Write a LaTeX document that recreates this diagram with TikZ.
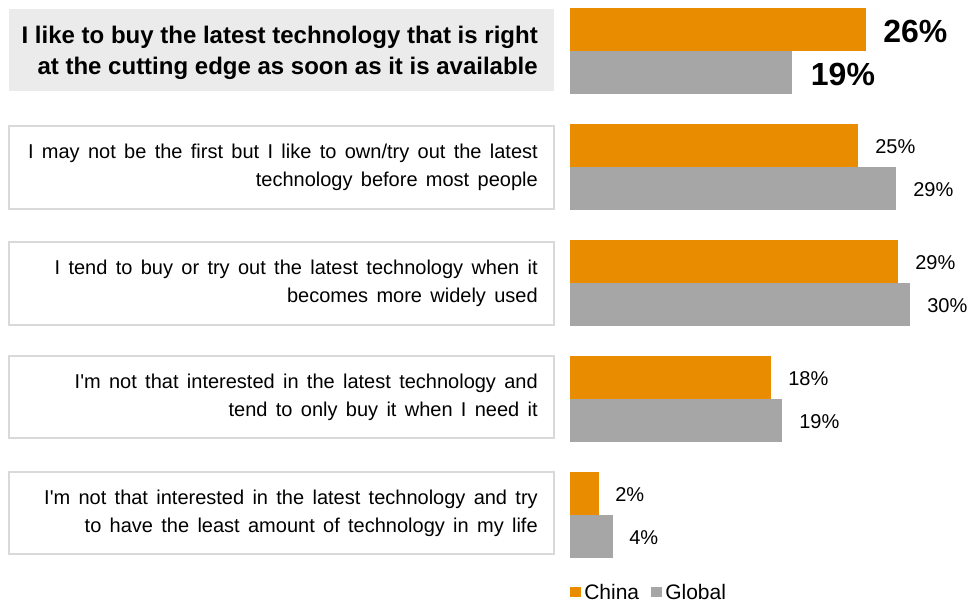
\documentclass[tikz,border=0pt]{standalone}
\usepackage{fontspec}
\setmainfont{Liberation Sans}
\newfontfamily\bodyfont[WordSpace=1.5]{Liberation Sans}
\usepackage{tikz}
\usetikzlibrary{positioning,calc}
\definecolor{china}{HTML}{EA8C00}
\definecolor{global}{HTML}{A6A6A6}
\definecolor{boxfill}{HTML}{EBEBEB}
\definecolor{boxline}{HTML}{D9D9D9}

\begin{document}
\begin{tikzpicture}[x=0.75pt,y=-0.75pt,
  chinabar/.style={fill=china},
  globalbar/.style={fill=global},
  answer/.style={draw=boxline,line width=1.5pt,fill=white},
  topanswer/.style={fill=boxfill},
  statement/.style={anchor=east,align=right,inner sep=0pt,font=\bodyfont\fontsize{15pt}{21pt}\selectfont},
  topstatement/.style={anchor=east,align=right,inner sep=0pt,font=\bfseries\fontsize{18pt}{23.5pt}\selectfont},
  pct/.style={inner sep=0pt,font=\fontsize{15pt}{18pt}\selectfont},
  toppct/.style={inner sep=0pt,font=\bfseries\fontsize{24pt}{28pt}\selectfont},
  legend/.style={anchor=west,inner sep=0pt,font=\fontsize{15.75pt}{18pt}\selectfont}]
\useasboundingbox (0,0) rectangle (969,602);

\fill[topanswer] (9,9) rectangle (554,91);
\node[topstatement] (s1) at (538,53) {I like to buy the latest technology that is right\\at the cutting edge as soon as it is available};
\draw[answer] (9,126) rectangle (554,209);
\node[statement] (s2) at (538,167.5) {I may not be the first but I like to own/try out the latest\\technology before most people};
\draw[answer] (9,242) rectangle (554,325);
\node[statement] (s3) at (538,283.5) {I tend to buy or try out the latest technology when it\\becomes more widely used};
\draw[answer] (9,356) rectangle (554,438);
\node[statement] (s4) at (538,397) {I'm not that interested in the latest technology and\\tend to only buy it when I need it};
\draw[answer] (9,472) rectangle (554,554);
\node[statement] (s5) at (538,513) {I'm not that interested in the latest technology and try\\to have the least amount of technology in my life};

\fill[chinabar] (570,8) rectangle (866,51);
\fill[globalbar] (570,51) rectangle (792,94);
\coordinate (c1) at (866,31);
\coordinate (g1) at (792,74);
\node[toppct, right=12.75pt of c1] (lc1) {26\%};
\node[toppct, right=14pt of g1] (lg1) {19\%};

\fill[chinabar] (570,124) rectangle (858,167);
\fill[globalbar] (570,167) rectangle (896,210);
\coordinate (c2) at (858,146.5);
\coordinate (g2) at (896,189.5);
\node[pct, right=12.75pt of c2] (lc2) {25\%};
\node[pct, right=12.75pt of g2] (lg2) {29\%};

\fill[chinabar] (570,240) rectangle (898,283);
\fill[globalbar] (570,283) rectangle (910,326);
\coordinate (c3) at (898,262.5);
\coordinate (g3) at (910,305.5);
\node[pct, right=12.75pt of c3] (lc3) {29\%};
\node[pct, right=12.75pt of g3] (lg3) {30\%};

\fill[chinabar] (570,356) rectangle (771,399);
\fill[globalbar] (570,399) rectangle (782,442);
\coordinate (c4) at (771,378.5);
\coordinate (g4) at (782,421.5);
\node[pct, right=12.75pt of c4] (lc4) {18\%};
\node[pct, right=12.75pt of g4] (lg4) {19\%};

\fill[chinabar] (570,472) rectangle (599,515);
\fill[globalbar] (570,515) rectangle (613,558);
\coordinate (c5) at (599,494.5);
\coordinate (g5) at (613,537.5);
\node[pct, right=12pt of c5] (lc5) {2\%};
\node[pct, right=12pt of g5] (lg5) {4\%};

\fill[china] (570,587) rectangle (581,597);
\node[legend] (lchina) at (584,592) {China};
\fill[global] (651,587) rectangle (662,597);
\node[legend] (lglobal) at (665,592) {Global};
\end{tikzpicture}
\end{document}
